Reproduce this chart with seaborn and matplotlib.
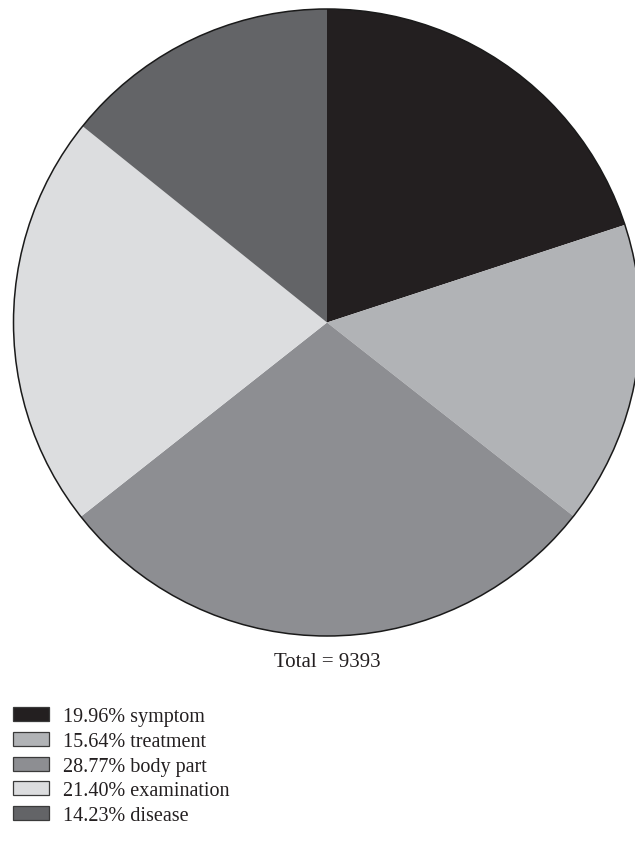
import matplotlib
matplotlib.use("Agg")
import matplotlib.pyplot as plt
from matplotlib.patches import Patch, Circle
import seaborn as sns

# Term categories and their shares of all annotated terms
categories = ["symptom", "treatment", "body part", "examination", "disease"]
shares = [19.96, 15.64, 28.77, 21.40, 14.23]
total_terms = 9393
colors = ["#231f20", "#b1b3b6", "#8d8e92", "#dcdddf", "#636467"]

sns.set_theme(style="white")
plt.rcParams["font.family"] = ["Liberation Serif", "DejaVu Serif"]

W, H = 635, 854
fig = plt.figure(figsize=(W / 100, H / 100), dpi=100)
ax = fig.add_axes([0, 0, 1, 1])

cx, cy, r = 327, H - 323.5, 313.5
wedges, _ = ax.pie(shares, colors=colors, startangle=90, counterclock=False,
                   center=(cx, cy), radius=r, frame=True,
                   wedgeprops=dict(linewidth=0))
ax.set_xlim(0, W)
ax.set_ylim(0, H)
ax.set_aspect("equal")
ax.axis("off")
ax.add_patch(Circle((cx, cy), r, fill=False, edgecolor="#1a1a1a", linewidth=1.1))

ax.text(cx, H - 663, f"Total = {total_terms}", ha="center", va="center",
        fontsize=15, color="#231f20")

handles = [Patch(facecolor=c, edgecolor="#3a3a3a", linewidth=0.9) for c in colors]
labels = [f"{s:.2f}% {c}" for s, c in zip(shares, categories)]
fig.legend(handles, labels, loc="upper left", bbox_to_anchor=(-1 / W, 1 - 694 / H),
           frameon=False, fontsize=14.5, handlelength=1.78, handleheight=0.7,
           handletextpad=0.68, labelspacing=0.28, borderpad=0.2,
           labelcolor="#231f20")

fig.savefig("out.png", dpi=100)
